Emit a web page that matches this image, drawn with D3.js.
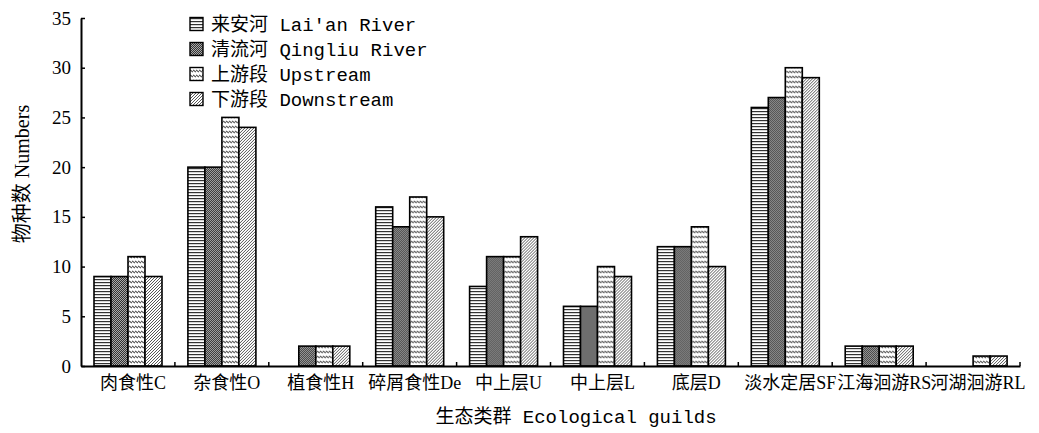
<!DOCTYPE html>
<html>
<head>
<meta charset="utf-8">
<script src="https://cdn.jsdelivr.net/npm/d3@7"></script>
<style>
body{margin:0;background:#fff;}
svg{display:block;}
</style>
</head>
<body>
<svg id="chart" width="1039" height="433"></svg>
<script>
const categories = ["肉食性C","杂食性O","植食性H","碎屑食性De","中上层U","中上层L","底层D","淡水定居SF","江海洄游RS","河湖洄游RL"];
const seriesNames = ["来安河 Lai′an River","清流河 Qingliu River","上游段 Upstream","下游段 Downstream"];
const laian    = [9, 20, 0, 16, 8, 6, 12, 26, 2, 0];
const qingliu  = [9, 20, 2, 14, 11, 6, 12, 27, 2, 0];
const upstream = [11, 25, 2, 17, 11, 10, 14, 30, 2, 1];
const downstream = [9, 24, 2, 15, 13, 9, 10, 29, 2, 1];
const yTicks = [0,5,10,15,20,25,30,35];

const seriesValues = [laian, qingliu, upstream, downstream];
const patternIds = ["pHoriz","pDots","pWave","pDiag"];

const svg = d3.select("#chart");
const defs = svg.append("defs");

// pattern: horizontal lines
let p = defs.append("pattern").attr("id","pHoriz").attr("patternUnits","userSpaceOnUse").attr("width",4).attr("height",3);
p.append("rect").attr("width",4).attr("height",3).attr("fill","#fff");
p.append("rect").attr("y",0).attr("width",4).attr("height",1.2).attr("fill","#333");
// pattern: dense dark dots
p = defs.append("pattern").attr("id","pDots").attr("patternUnits","userSpaceOnUse").attr("width",2).attr("height",2);
p.append("rect").attr("width",2).attr("height",2).attr("fill","#aaaaaa");
p.append("rect").attr("x",0).attr("y",0).attr("width",1).attr("height",1).attr("fill","#333");
p.append("rect").attr("x",1).attr("y",1).attr("width",1).attr("height",1).attr("fill","#333");
// pattern: small wavy dashes
p = defs.append("pattern").attr("id","pWave").attr("patternUnits","userSpaceOnUse").attr("width",3).attr("height",5);
p.append("rect").attr("width",3).attr("height",5).attr("fill","#fff");
p.append("path").attr("d","M0,1 L3,3").attr("stroke","#555").attr("stroke-width",1.1).attr("fill","none");
// pattern: diagonal lines
p = defs.append("pattern").attr("id","pDiag").attr("patternUnits","userSpaceOnUse").attr("width",3).attr("height",3);
p.append("rect").attr("width",3).attr("height",3).attr("fill","#fff");
p.append("path").attr("d","M-1,1 L1,-1 M0,3 L3,0 M2,4 L4,2").attr("stroke","#444").attr("stroke-width",0.9).attr("fill","none");

const x = d3.scaleBand().domain(categories).range([81,1020]).paddingInner(0).paddingOuter(0);
const xs = d3.scaleBand().domain(d3.range(4)).range([13,81]);
const y = d3.scaleLinear().domain([0,35]).range([366,18]);

// bars
const groups = svg.append("g").selectAll("g").data(categories).join("g")
  .attr("transform", d => `translate(${x(d)},0)`);
groups.selectAll("rect")
  .data((d,i) => seriesValues.map((s,k) => ({k, v: s[i]})).filter(e => e.v > 0))
  .join("rect")
  .attr("x", e => xs(e.k))
  .attr("width", xs.bandwidth())
  .attr("y", e => y(e.v))
  .attr("height", e => y(0) - y(e.v))
  .attr("fill", e => `url(#${patternIds[e.k]})`)
  .attr("stroke","#000")
  .attr("stroke-width",1.6);

// y axis
const yAxis = svg.append("g").attr("transform","translate(81,0)")
  .call(d3.axisLeft(y).tickValues(yTicks).tickSizeInner(-4).tickSizeOuter(0).tickPadding(10));
yAxis.select(".domain").attr("stroke","#000").attr("stroke-width",2);
yAxis.selectAll(".tick line").attr("stroke","#000").attr("stroke-width",1.5);
yAxis.selectAll(".tick text").attr("font-family","'Liberation Serif', serif").attr("font-size",19).attr("fill","#000");

// x axis
const xAxis = svg.append("g").attr("transform","translate(0,366)")
  .call(d3.axisBottom(x).tickSizeInner(0).tickSizeOuter(0).tickPadding(0));
xAxis.select(".domain").attr("stroke","#000").attr("stroke-width",2);
xAxis.selectAll(".tick text")
  .attr("font-family","'Liberation Serif','Noto Sans CJK SC', serif")
  .attr("font-size",18).attr("fill","#000")
  .attr("dy",null).attr("y",23).attr("dx",5);
// small upward ticks at band boundaries
const bounds = categories.map(c => x(c) + x.bandwidth());
svg.append("g").selectAll("line").data(bounds).join("line")
  .attr("x1", d => d).attr("x2", d => d)
  .attr("y1", 366).attr("y2", 362)
  .attr("stroke","#000").attr("stroke-width",1.5);

// axis titles
svg.append("text")
  .attr("transform","translate(22,174) rotate(-90)")
  .attr("text-anchor","middle").attr("dominant-baseline","central")
  .attr("font-family","'Liberation Serif','Noto Sans CJK SC', serif")
  .attr("font-size",20).attr("fill","#000")
  .text("物种数 Numbers");
svg.append("text")
  .attr("x",576).attr("y",423)
  .attr("text-anchor","middle")
  .attr("font-family","'Liberation Mono','Noto Sans CJK SC', monospace")
  .attr("font-size",19).attr("fill","#000")
  .text("生态类群 Ecological guilds");

// legend
const leg = svg.append("g").selectAll("g").data(seriesNames).join("g")
  .attr("transform",(d,i)=>`translate(190,${24 + i*25})`);
leg.append("rect").attr("x",0).attr("y",-6.5).attr("width",13).attr("height",13)
  .attr("fill",(d,i)=>`url(#${patternIds[i]})`).attr("stroke","#000").attr("stroke-width",1.4);
leg.append("text").attr("x",21).attr("y",7)
  .attr("font-family","'Liberation Mono','Noto Sans CJK SC', monospace")
  .attr("font-size",19).attr("fill","#000")
  .text(d=>d);
</script>
</body>
</html>
